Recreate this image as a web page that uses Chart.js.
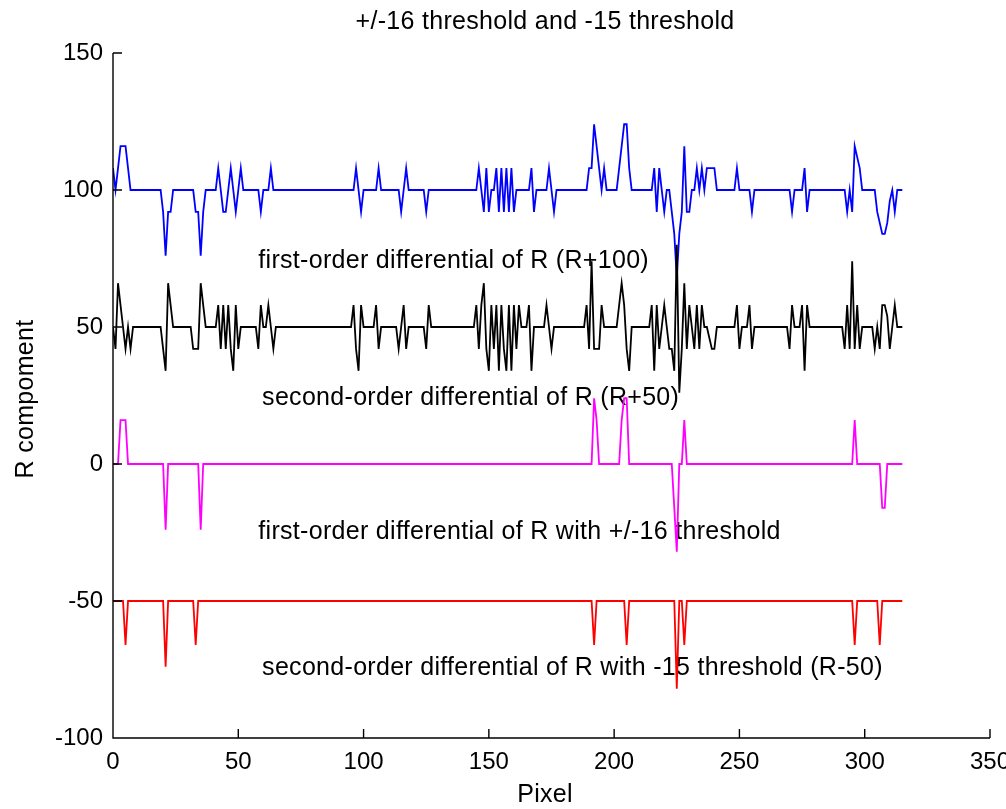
<!DOCTYPE html>
<html lang="en">
<head>
    <meta charset="UTF-8">
    <title>R compoment differentials</title>
    <style>
      html, body { margin: 0; padding: 0; background: #fff; }
      #wrap { width: 1006px; height: 809px; }
    </style>
</head>
<body>

    <div id="wrap">
      <canvas id="myChart" width="1006" height="809"></canvas>
    </div>

    <script src="https://cdn.jsdelivr.net/npm/chart.js"></script>
    <script>
      // [pixel, value] - only the samples where the curve changes, flat runs are joined by the line
      var firstDiff = [
        [0,108],[1,100],[2,108],[3,116],[4,116],[5,116],[6,108],[7,100],
        [19,100],[20,92],[21,76],[22,92],[23,92],[24,100],
        [32,100],[33,92],[34,92],[35,76],[36,92],[37,100],
        [41,100],[42,108],[43,100],[44,92],[45,92],[46,100],[47,108],[48,100],[49,92],[50,100],[51,108],[52,100],
        [58,100],[59,92],[60,100],[62,100],[63,108],[64,100],
        [96,100],[97,108],[98,100],[99,92],[100,100],
        [105,100],[106,108],[107,100],
        [114,100],[115,92],[116,100],[117,108],[118,100],
        [124,100],[125,92],[126,100],
        [145,100],[146,108],[147,100],[148,92],[149,108],[150,92],[151,100],[152,100],[153,108],[154,92],[155,108],[156,92],[157,108],[158,92],[159,108],[160,92],[161,100],
        [166,100],[167,108],[168,92],[169,100],
        [173,100],[174,108],[175,100],[176,92],[177,100],
        [189,100],[190,108],[191,108],[192,124],[193,116],[194,108],[195,100],[196,108],[197,100],
        [201,100],[202,108],[203,116],[204,124],[205,124],[206,108],[207,100],
        [215,100],[216,108],[217,92],[218,108],[219,100],[220,92],[221,100],[222,100],[223,92],[224,84],[225,68],[226,84],[227,92],[228,116],[229,92],[230,92],[231,100],
        [232,100],[233,108],[234,100],[235,108],[236,100],[237,108],[238,108],[239,108],[240,108],[241,100],
        [248,100],[249,108],[250,100],
        [254,100],[255,92],[256,100],
        [270,100],[271,92],[272,100],
        [275,100],[276,108],[277,92],[278,100],
        [292,100],[293,92],[294,100],[295,92],[296,116],[297,112],[298,108],[299,100],
        [304,100],[305,92],[306,88],[307,84],[308,84],[309,88],[310,96],[311,100],[312,92],[313,100],[315,100]
      ];

      var secondDiff = [
        [0,50],[1,42],[2,66],[3,58],[4,50],[5,42],[6,50],[7,42],[8,50],
        [19,50],[20,42],[21,34],[22,66],[23,58],[24,50],
        [31,50],[32,42],[33,42],[34,42],[35,66],[36,58],[37,50],
        [41,50],[42,58],[43,42],[44,58],[45,42],[46,58],[47,42],[48,34],[49,58],[50,42],[51,50],
        [57,50],[58,42],[59,58],[60,50],[61,50],[62,58],[63,50],[64,42],[65,50],
        [95,50],[96,58],[97,42],[98,34],[99,58],[100,50],
        [104,50],[105,58],[106,42],[107,50],
        [113,50],[114,42],[115,50],[116,58],[117,42],[118,50],
        [124,50],[125,42],[126,58],[127,50],
        [144,50],[145,58],[146,42],[147,58],[148,66],[149,42],[150,34],[151,58],[152,42],[153,58],[154,34],[155,58],[156,42],[157,34],[158,58],[159,34],[160,58],[161,42],[162,58],[163,50],
        [165,50],[166,58],[167,34],[168,50],
        [172,50],[173,58],[174,50],[175,42],[176,50],
        [188,50],[189,58],[190,42],[191,74],[192,42],[193,42],[194,42],[195,58],[196,50],
        [201,50],[202,58],[203,66],[204,58],[205,42],[206,34],[207,50],
        [214,50],[215,58],[216,34],[217,58],[218,42],[219,50],[220,58],[221,50],[222,42],[223,42],[224,34],[225,80],[226,26],[227,42],[228,66],[229,42],[230,58],[231,50],
        [232,42],[233,58],[234,42],[235,58],[236,50],[237,50],[238,46],[239,42],[240,42],[241,50],
        [248,50],[249,58],[250,42],[251,50],
        [253,50],[254,58],[255,42],[256,50],
        [269,50],[270,42],[271,58],[272,50],
        [274,50],[275,58],[276,34],[277,58],[278,50],
        [291,50],[292,42],[293,58],[294,42],[295,74],[296,42],[297,58],[298,42],[299,50],
        [303,50],[304,42],[305,50],[306,42],[307,58],[308,58],[309,54],[310,42],[311,50],[312,58],[313,50],[315,50]
      ];

      var firstThresh = [
        [0,0],[2,0],[3,16],[4,16],[5,16],[6,0],
        [20,0],[21,-24],[22,0],
        [34,0],[35,-24],[36,0],
        [191,0],[192,24],[193,16],[194,0],
        [202,0],[203,16],[204,24],[205,24],[206,0],
        [223,0],[224,-16],[225,-32],[226,0],[227,0],[228,16],[229,0],
        [295,0],[296,16],[297,0],
        [306,0],[307,-16],[308,-16],[309,0],[315,0]
      ];

      var secondThresh = [
        [0,-50],[4,-50],[5,-66],[6,-50],
        [20,-50],[21,-74],[22,-50],
        [32,-50],[33,-66],[34,-50],
        [191,-50],[192,-66],[193,-50],
        [204,-50],[205,-66],[206,-50],
        [224,-50],[225,-82],[226,-50],[227,-50],[228,-66],[229,-50],
        [295,-50],[296,-66],[297,-50],
        [305,-50],[306,-66],[307,-50],[315,-50]
      ];

      var xTicks = [0, 50, 100, 150, 200, 250, 300, 350];
      var yTicks = [-100, -50, 0, 50, 100, 150];

      var notes = [
        'first-order differential of R (R+100)',
        'second-order differential of R (R+50)',
        'first-order differential of R with +/-16 threshold',
        'second-order differential of R with -15 threshold (R-50)'
      ];
      var noteAt = [[58, 74.2], [59.5, 24.1], [58, -24.8], [59.5, -74.5]];

      var textFont = '25px "Liberation Sans", Arial, sans-serif';

      function pts(list) {
        return list.map(function (p) { return { x: p[0], y: p[1] }; });
      }

      var decor = {
        id: 'decor',
        beforeDatasetsDraw: function (chart) {
          var ctx = chart.ctx, xs = chart.scales.x, ys = chart.scales.y;
          ctx.save();
          ctx.font = textFont;
          ctx.letterSpacing = '0.3px';
          ctx.fillStyle = '#000';
          ctx.textAlign = 'left';
          ctx.textBaseline = 'middle';
          for (var i = 0; i < notes.length; i++) {
            ctx.fillText(notes[i], xs.getPixelForValue(noteAt[i][0]), ys.getPixelForValue(noteAt[i][1]));
          }
          ctx.restore();
        },
        afterDraw: function (chart) {
          var ctx = chart.ctx, a = chart.chartArea, xs = chart.scales.x, ys = chart.scales.y;
          ctx.save();
          ctx.strokeStyle = '#000';
          ctx.lineWidth = 1.4;
          ctx.beginPath();
          ctx.moveTo(a.left, a.top);
          ctx.lineTo(a.left, a.bottom);
          ctx.lineTo(a.right, a.bottom);
          // inward ticks
          xTicks.forEach(function (v) {
            var px = xs.getPixelForValue(v);
            ctx.moveTo(px, a.bottom);
            ctx.lineTo(px, a.bottom - 9);
          });
          yTicks.forEach(function (v) {
            var py = ys.getPixelForValue(v);
            ctx.moveTo(a.left, py);
            ctx.lineTo(a.left + 9, py);
          });
          ctx.stroke();

          ctx.font = textFont;
          ctx.letterSpacing = '0.3px';
          ctx.fillStyle = '#000';
          ctx.textAlign = 'center';
          ctx.textBaseline = 'middle';
          ctx.fillText('+/-16 threshold and -15 threshold', 545, 22);
          ctx.fillText('Pixel', 545, 795);
          ctx.translate(26, 399);
          ctx.rotate(-Math.PI / 2);
          ctx.fillText('R compoment', 0, 0);
          ctx.restore();
        }
      };

      function makeLine(data, color, order) {
        return {
          data: pts(data),
          borderColor: color,
          backgroundColor: color,
          borderWidth: 1.8,
          pointRadius: 0,
          tension: 0,
          fill: false,
          order: order
        };
      }

      function createChart() {
        var ctx = document.getElementById('myChart').getContext('2d');
        new Chart(ctx, {
          type: 'line',
          data: {
            datasets: [
              makeLine(secondThresh, '#ff0000', 1),
              makeLine(firstThresh, '#ff00ff', 2),
              makeLine(secondDiff, '#000000', 3),
              makeLine(firstDiff, '#0000ff', 4)
            ]
          },
          options: {
            responsive: false,
            devicePixelRatio: 1,
            animation: false,
            layout: { padding: { top: 53, right: 16, bottom: 0, left: 0 } },
            plugins: { legend: { display: false }, tooltip: { enabled: false }, title: { display: false } },
            scales: {
              x: {
                type: 'linear',
                min: 0,
                max: 350,
                afterBuildTicks: function (s) { s.ticks = xTicks.map(function (v) { return { value: v }; }); },
                afterFit: function (s) { s.height = 71; s.paddingLeft = 0; s.paddingRight = 0; },
                grid: { display: false, drawTicks: false },
                border: { display: false },
                ticks: { color: '#000', padding: 10, maxRotation: 0, autoSkip: false,
                         font: { family: '"Liberation Sans", Arial, sans-serif', size: 24 } }
              },
              y: {
                type: 'linear',
                min: -100,
                max: 150,
                afterBuildTicks: function (s) { s.ticks = yTicks.map(function (v) { return { value: v }; }); },
                afterFit: function (s) { s.width = 113; },
                grid: { display: false, drawTicks: false },
                border: { display: false },
                ticks: { color: '#000', padding: 10, autoSkip: false,
                         font: { family: '"Liberation Sans", Arial, sans-serif', size: 24 } }
              }
            }
          },
          plugins: [decor]
        });
      }

      createChart();
    </script>
</body>
</html>
